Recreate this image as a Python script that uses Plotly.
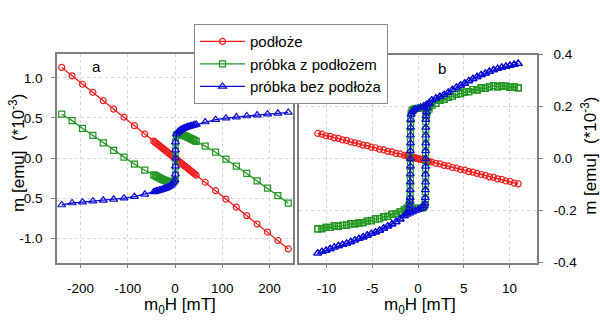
import plotly.graph_objects as go

# ---------------- panel a: full field sweep (mT) ----------------
h_a_red = [-240, -218, -196, -174, -152, -130, -108, -86, -64,
           -45, -42, -39, -36, -33, -30, -27, -24, -21, -18, -15, -12, -9, -6, -3,
           0,
           3, 6, 9, 12, 15, 18, 21, 24, 27, 30, 33, 36, 39, 42, 45,
           64, 86, 108, 130, 152, 174, 196, 218, 240]
m_a_red = [1.13, 1.025, 0.92, 0.82, 0.715, 0.61, 0.51, 0.405, 0.30,
           0.212, 0.197, 0.183, 0.169, 0.155, 0.141, 0.127, 0.113, 0.099, 0.085, 0.071, 0.056, 0.042, 0.028, 0.014,
           0.0,
           -0.014, -0.028, -0.042, -0.056, -0.071, -0.085, -0.099, -0.113, -0.127, -0.141, -0.155, -0.169, -0.183, -0.197, -0.212,
           -0.30, -0.405, -0.51, -0.61, -0.715, -0.82, -0.92, -1.025, -1.13]

h_a_loop = [-240, -218, -196, -174, -152, -130, -108, -86, -64,
            -45, -42, -39, -36, -33, -30, -27, -24, -21, -18, -15, -12, -9, -6, -3,
            0,
            1, 1, 1, 1, 1,
            3, 6, 9, 12, 15, 18, 21, 24, 27, 30, 33, 36, 39, 42, 45,
            64, 86, 108, 130, 152, 174, 196, 218, 240]
m_a_blue = [-0.583, -0.558, -0.548, -0.536, -0.525, -0.512, -0.498, -0.479, -0.45,
            -0.42, -0.415, -0.41, -0.405, -0.40, -0.395, -0.39, -0.384, -0.377, -0.37, -0.362, -0.352, -0.34, -0.325, -0.30,
            -0.27,
            -0.2, -0.1, 0.0, 0.1, 0.2,
            0.30, 0.325, 0.34, 0.352, 0.362, 0.37, 0.377, 0.384, 0.39, 0.395, 0.40, 0.405, 0.41, 0.415, 0.42,
            0.45, 0.479, 0.498, 0.512, 0.525, 0.536, 0.548, 0.558, 0.57]
m_a_green = [0.547, 0.467, 0.372, 0.284, 0.19, 0.098, 0.012, -0.074, -0.15,
             -0.208, -0.218, -0.227, -0.236, -0.245, -0.254, -0.263, -0.271, -0.278, -0.285, -0.291, -0.296, -0.298, -0.297, -0.286,
             -0.27,
             -0.2, -0.1, 0.0, 0.1, 0.2,
             0.286, 0.297, 0.298, 0.296, 0.291, 0.285, 0.278, 0.271, 0.263, 0.254, 0.245, 0.236, 0.227, 0.218, 0.208,
             0.15, 0.074, -0.012, -0.098, -0.19, -0.284, -0.372, -0.467, -0.56]

# ---------------- panel b: minor loop (mT) ----------------
h_b_red = [-10.95, -10.5, -10.05, -9.6, -9.15, -8.7, -8.25, -7.8, -7.35, -6.9, -6.45, -6.0, -5.55, -5.1, -4.65,
           -4.2, -3.75, -3.3, -2.85, -2.4, -1.95, -1.5,
           -1.2, -1.1, -1.0, -0.9, -0.8, -0.7, -0.6, -0.5, -0.4, -0.3, -0.2, -0.1, 0.0,
           0.1, 0.2, 0.3, 0.4, 0.5, 0.6, 0.7, 0.8, 0.9, 1.0, 1.1, 1.2,
           1.5, 1.95, 2.4, 2.85, 3.3, 3.75, 4.2, 4.65, 5.1, 5.55, 6.0, 6.45, 6.9, 7.35, 7.8, 8.25, 8.7,
           9.15, 9.6, 10.05, 10.5, 10.95]
m_b_red = [0.097, 0.094, 0.088, 0.086, 0.08, 0.078, 0.072, 0.07, 0.064, 0.061, 0.057, 0.052, 0.05, 0.044, 0.042,
           0.036, 0.034, 0.028, 0.026, 0.02, 0.018, 0.013,
           0.011, 0.010, 0.009, 0.008, 0.007, 0.006, 0.005, 0.004, 0.0035, 0.0026, 0.0018, 0.0009, 0.0,
           -0.0009, -0.0018, -0.0026, -0.0035, -0.004, -0.005, -0.006, -0.007, -0.008, -0.009, -0.010, -0.011,
           -0.013, -0.018, -0.02, -0.026, -0.028, -0.034, -0.036, -0.042, -0.044, -0.05, -0.052, -0.057, -0.061,
           -0.064, -0.07, -0.072, -0.078, -0.08, -0.086, -0.088, -0.094, -0.097]

# upper outer branch (field decreasing)
h_b_up = [10.95, 10.5, 10.05, 9.6, 9.15, 8.7, 8.25, 7.8, 7.35, 6.9, 6.45, 6.0, 5.55, 5.1, 4.65,
          4.2, 3.75, 3.3, 2.85, 2.4, 1.95, 1.5]
m_b_blue_up = [0.366, 0.362, 0.358, 0.355, 0.351, 0.346, 0.341, 0.335, 0.328, 0.322, 0.315, 0.307, 0.299, 0.29, 0.282,
               0.274, 0.265, 0.255, 0.246, 0.239, 0.232, 0.225]
m_b_green_up = [0.272, 0.276, 0.274, 0.279, 0.28, 0.276, 0.281, 0.276, 0.27, 0.272, 0.264, 0.266, 0.258, 0.256, 0.25,
                0.247, 0.24, 0.236, 0.228, 0.224, 0.213, 0.205]

# switching region, field decreasing
h_b_dn_mid = [1.2, 0.9, 0.6, 0.3, 0.0, -0.3, -0.5, -0.65, -0.75,
              -0.8, -0.81, -0.82, -0.82, -0.83, -0.83, -0.83, -0.84, -0.84, -0.85, -0.85,
              -0.86, -0.9, -1.0, -1.2]
m_b_blue_dn_mid = [0.215, 0.208, 0.202, 0.198, 0.194, 0.19, 0.186, 0.18, 0.17,
                   0.15, 0.12, 0.09, 0.06, 0.03, 0.0, -0.03, -0.06, -0.09, -0.12, -0.15,
                   -0.165, -0.18, -0.195, -0.21]
m_b_green_dn_mid = [0.198, 0.196, 0.195, 0.194, 0.194, 0.193, 0.19, 0.185, 0.175,
                    0.157, 0.127, 0.097, 0.067, 0.037, 0.007, -0.023, -0.053, -0.083, -0.113, -0.143,
                    -0.155, -0.168, -0.18, -0.19]

# lower outer branch
h_b_lo = [-1.5, -1.95, -2.4, -2.85, -3.3, -3.75, -4.2, -4.65, -5.1, -5.55, -6.0, -6.45, -6.9, -7.35, -7.8,
          -8.25, -8.7, -9.15, -9.6, -10.05, -10.5, -10.95]
m_b_blue_lo = [-0.22, -0.233, -0.243, -0.252, -0.26, -0.268, -0.276, -0.283, -0.289, -0.295, -0.302, -0.308, -0.314,
               -0.32, -0.326, -0.331, -0.336, -0.341, -0.347, -0.353, -0.358, -0.364]
m_b_green_lo = [-0.197, -0.205, -0.212, -0.214, -0.222, -0.224, -0.231, -0.232, -0.239, -0.24, -0.246, -0.247,
                -0.251, -0.25, -0.256, -0.257, -0.261, -0.259, -0.265, -0.264, -0.269, -0.27]

# switching region, field increasing
h_b_up_mid = [-1.2, -0.9, -0.6, -0.3, 0.0, 0.3, 0.5, 0.65, 0.75,
              0.8, 0.81, 0.82, 0.82, 0.83, 0.83, 0.83, 0.84, 0.84, 0.85, 0.85,
              0.86, 0.9, 1.0, 1.2]
m_b_blue_up_mid = [-0.215, -0.21, -0.205, -0.2, -0.196, -0.192, -0.188, -0.182, -0.172,
                   -0.15, -0.12, -0.09, -0.06, -0.03, 0.0, 0.03, 0.06, 0.09, 0.12, 0.15,
                   0.165, 0.18, 0.195, 0.21]
m_b_green_up_mid = [-0.19, -0.19, -0.19, -0.19, -0.192, -0.19, -0.19, -0.186, -0.178,
                    -0.157, -0.127, -0.097, -0.067, -0.037, -0.007, 0.023, 0.053, 0.083, 0.113, 0.143,
                    0.155, 0.168, 0.18, 0.19]

# axis ticks
xa_ticks = [-200, -100, 0, 100, 200]
xa_text = ["-200", "-100", "0", "100", "200"]
ya_ticks = [-1.0, -0.5, 0.0, 0.5, 1.0]
ya_text = ["-1.0", "-0.5", "0.0", "0.5", "1.0"]
xb_ticks = [-10, -5, 0, 5, 10]
xb_text = ["-10", "-5", "0", "5", "10"]
yb_ticks = [-0.4, -0.2, 0.0, 0.2, 0.4]
yb_text = ["-0.4", "-0.2", "0.0", "0.2", "0.4"]

names = ["podłoże", "próbka z podłożem", "próbka bez podłoża"]
colors = ["#f21c1c", "#1f961f", "#0b0bd6"]
symbols = ["circle-open", "square-open", "triangle-up-open"]
sizes = [6, 6, 7]


def loop_path(up, dn_mid, lo, up_mid):
    # full closed sweep: down the upper branch, through the negative switch,
    # out along the lower branch and back, then up through the positive switch
    return up + dn_mid + lo + lo[::-1] + up_mid + up[::-1]


h_b_loop = loop_path(h_b_up, h_b_dn_mid, h_b_lo, h_b_up_mid)
m_b_blue = loop_path(m_b_blue_up, m_b_blue_dn_mid, m_b_blue_lo, m_b_blue_up_mid)
m_b_green = loop_path(m_b_green_up, m_b_green_dn_mid, m_b_green_lo, m_b_green_up_mid)

series_a = [(h_a_red, m_a_red), (h_a_loop, m_a_green), (h_a_loop, m_a_blue)]
series_b = [(h_b_red, m_b_red), (h_b_loop, m_b_green), (h_b_loop, m_b_blue)]

fig = go.Figure()
for i, (hx, my) in enumerate(series_a):
    fig.add_trace(go.Scatter(
        x=hx, y=my, mode="lines+markers", name=names[i],
        line=dict(color=colors[i], width=1.3),
        marker=dict(symbol=symbols[i], size=sizes[i], color=colors[i], line=dict(width=1.2, color=colors[i])),
        xaxis="x", yaxis="y", showlegend=True))
for i, (hx, my) in enumerate(series_b):
    fig.add_trace(go.Scatter(
        x=hx, y=my, mode="lines+markers", name=names[i],
        line=dict(color=colors[i], width=1.3),
        marker=dict(symbol=symbols[i], size=sizes[i], color=colors[i], line=dict(width=1.2, color=colors[i])),
        xaxis="x2", yaxis="y2", showlegend=False))

W, H = 600, 324


def px_x(p):
    return p / W


def px_y(p):
    return 1 - p / H


frame = dict(showline=True, linecolor="#808080", linewidth=1.5, mirror=True,
             ticks="outside", ticklen=4, tickwidth=1, tickcolor="#808080",
             showgrid=True, gridcolor="#d4d4d4", griddash="dot", gridwidth=1,
             zeroline=False, tickfont=dict(size=13.5))

fig.update_layout(
    width=W, height=H, margin=dict(l=0, r=0, t=0, b=0),
    paper_bgcolor="white", plot_bgcolor="white",
    font=dict(family="Liberation Sans, Arial, sans-serif", size=13.5, color="black"),
    xaxis=dict(domain=[px_x(57), px_x(293)], range=[-250, 250], anchor="y",
               tickmode="array", tickvals=xa_ticks, ticktext=xa_text, ticklabelstandoff=8, **frame),
    yaxis=dict(domain=[px_y(268), px_y(49)], range=[-1.3, 1.3], anchor="x",
               tickmode="array", tickvals=ya_ticks, ticktext=ya_text, ticklabelstandoff=6, **frame),
    xaxis2=dict(domain=[px_x(299), px_x(537)], range=[-13, 13], anchor="y2",
                tickmode="array", tickvals=xb_ticks, ticktext=xb_text, ticklabelstandoff=8, **frame),
    yaxis2=dict(domain=[px_y(268), px_y(50)], range=[-0.4, 0.4], anchor="x2", side="right",
                tickmode="array", tickvals=yb_ticks, ticktext=yb_text, ticklabelstandoff=8, **frame),
    legend=dict(x=px_x(194), y=px_y(18), xanchor="left", yanchor="top",
                bgcolor="white", bordercolor="#8a8a8a", borderwidth=1,
                font=dict(size=15), tracegroupgap=0, itemwidth=45),
)

title_font = dict(size=17, color="black")
ann = [
    dict(text="m<sub>0</sub>H [mT]", x=px_x(180), y=px_y(313), xanchor="center", yanchor="middle", font=title_font),
    dict(text="m<sub>0</sub>H [mT]", x=px_x(420), y=px_y(313), xanchor="center", yanchor="middle", font=title_font),
    dict(text="m [emu]  (*10<sup>-3</sup>)", x=px_x(17), y=px_y(153), xanchor="center", yanchor="middle",
         textangle=-90, font=title_font),
    dict(text="m [emu]  (*10<sup>-3</sup>)", x=px_x(589), y=px_y(156), xanchor="center", yanchor="middle",
         textangle=-90, font=title_font),
    dict(text="a", x=px_x(97), y=px_y(62), xanchor="center", yanchor="middle", font=dict(size=15)),
    dict(text="b", x=px_x(442), y=px_y(65), xanchor="center", yanchor="middle", font=dict(size=15)),
]
for a in ann:
    fig.add_annotation(xref="paper", yref="paper", showarrow=False, **a)

fig.write_html("out.html")
